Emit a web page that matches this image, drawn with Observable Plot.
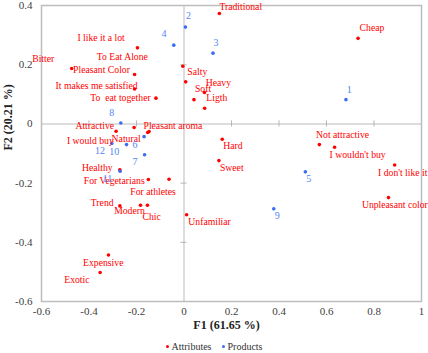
<!DOCTYPE html>
<html><head><meta charset="utf-8">
<script src="https://cdn.jsdelivr.net/npm/d3@7"></script>
<script src="https://cdn.jsdelivr.net/npm/@observablehq/plot@0.6"></script>
<style>
body{margin:0;background:#fff;}
#chart svg text{white-space:pre;}
.legend{display:flex;justify-content:center;align-items:center;width:428px;height:13px;font:10px "Liberation Serif","Times New Roman",serif;color:#333;}
.legend .dot{display:inline-block;width:3px;height:3px;border-radius:50%;margin-right:3px;}
.legend .item{display:flex;align-items:center;margin:0 5px;}
</style></head><body>
<div id="chart"></div>
<script>
// ---- data ----
const attrNames = ["Traditional","Cheap","I like it a lot","Bitter","Pleasant Color","It makes me satisfied","To  eat together","To Eat Alone","Salty","Heavy","Soft","Ligth","Attractive","I would buy","Natural","Pleasant aroma","Healthy","For Vegetarians","For athletes","Trend","Modern","Chic","Unfamiliar","Hard","Sweet","Not attractive","I wouldn't buy","I don't like it","Unpleasant color","Expensive","Exotic"];
const attrF1 = [0.149,0.733,-0.196,-0.473,-0.208,-0.208,-0.118,-0.005,0.007,0.086,0.042,0.087,-0.210,-0.286,-0.153,-0.147,-0.270,-0.150,-0.063,-0.270,-0.183,-0.154,0.011,0.161,0.147,0.570,0.634,0.887,0.861,-0.318,-0.353];
const attrF2 = [0.373,0.289,0.257,0.187,0.167,0.118,0.087,0.195,0.142,0.106,0.082,0.053,-0.012,-0.025,-0.029,-0.026,-0.155,-0.188,-0.187,-0.277,-0.275,-0.275,-0.307,-0.052,-0.124,-0.070,-0.079,-0.139,-0.249,-0.443,-0.502];
const prodNames = ["1","2","3","4","5","6","7","8","9","10","11","12"];
const prodF1 = [0.682,0.006,0.122,-0.043,0.511,-0.168,-0.166,-0.266,0.378,-0.242,-0.269,-0.304];
const prodF2 = [0.082,0.327,0.239,0.266,-0.162,-0.043,-0.104,0.003,-0.287,-0.070,-0.160,-0.066];
const xTicks = [-0.6,-0.4,-0.2,0,0.2,0.4,0.6,0.8,1];
const yTicks = [-0.6,-0.4,-0.2,0,0.2,0.4];
const xTitle = "F1 (61.65 %)";
const yTitle = "F2 (20.21 %)";
const legendNames = ["Attributes","Products"];

// ---- label layout (anchor, dx, dy in px) ----
const attrLabelPos = [["start",0,-6.5],["start",1.5,-10.5],["end",-12.7,-10.3],["end",-17.4,-9.7],["end",-4.7,-4.7],["end",3,-3.3],["end",-5.3,0],["end",-35,-9.7],["start",1.7,-9.6],["start",1.3,-10],["start",1,-10.7],["start",1.7,-10.7],["end",-20,-1.7],["end",-2.3,9.3],["end",-7,6],["start",-5.6,-5.7],["end",-7.3,-2.3],["end",-3.7,1.7],["end",6.7,12.3],["end",-6.3,-2.6],["end",4.3,5.3],["start",-5,12],["start",1.7,7],["start",1,7],["start",1,7],["start",-3.3,-9.7],["start",-5,8],["start",-16.6,7.7],["start",-26.6,7.3],["middle",-5.2,7.7],["end",-10.6,7.3]];
const prodLabelPos = [[3.3,-10.3],[3,-11],[3,-10.4],[-9.7,-11],[3.3,7],[-9,7.7],[-9.7,6.7],[-9,-10.3],[3.4,6.7],[-12.4,7.3],[-12.6,7.3],[-11.7,7.3]];

const attrs = attrNames.map((n,i)=>({name:n,x:attrF1[i],y:attrF2[i],a:attrLabelPos[i][0],dx:attrLabelPos[i][1],dy:attrLabelPos[i][2]}));
const prods = prodNames.map((n,i)=>({name:n,x:prodF1[i],y:prodF2[i],dx:prodLabelPos[i][0],dy:prodLabelPos[i][1]}));

const RED = "#ff0000", BLUE = "#3a6cf4", BLUE_T = "#5585f2";
const serif = "'Liberation Serif', 'Times New Roman', serif";
const inner = xTicks.filter(v=>v!==0 && v!==xTicks[0] && v!==xTicks[xTicks.length-1]);
const innerY = yTicks.filter(v=>v!==0 && v!==yTicks[0] && v!==yTicks[yTicks.length-1]);

const plot = Plot.plot({
  width: 428, height: 340,
  marginLeft: 41, marginRight: 7, marginTop: 5, marginBottom: 39,
  style: {fontFamily: serif, fontSize: "11px", color: "#404040", background: "#fff", overflow: "visible"},
  x: {domain: [-0.6, 1], ticks: xTicks, tickFormat: d => String(d), tickSize: 0, tickPadding: 6, label: null},
  y: {domain: [-0.6, 0.4], ticks: yTicks, tickFormat: d => String(d), tickSize: 0, tickPadding: 9, label: null},
  marks: [
    Plot.ruleX([0], {stroke: "#d2d2d2", strokeWidth: 1.5}),
    Plot.ruleY([0], {stroke: "#d2d2d2", strokeWidth: 1.5}),
    Plot.ruleX(inner, {x: d => d, y1: 0, y2: 0, insetTop: -3, insetBottom: -3, stroke: "#b5b5b5"}),
    Plot.ruleY(innerY, {y: d => d, x1: 0, x2: 0, insetLeft: -3, insetRight: -3, stroke: "#b5b5b5"}),
    Plot.frame({stroke: "#bdbdbd", strokeWidth: 1.5}),
    Plot.dot(attrs, {x: "x", y: "y", r: 1.8, fill: RED}),
    Plot.dot(prods, {x: "x", y: "y", r: 1.8, fill: BLUE}),
    ...attrs.map(d => Plot.text([d], {x: "x", y: "y", text: "name", fill: RED, fontSize: 9.7, textAnchor: d.a, dx: d.dx, dy: d.dy})),
    ...prods.map(d => Plot.text([d], {x: "x", y: "y", text: "name", fill: BLUE_T, fontSize: 10, dx: d.dx, dy: d.dy})),
    Plot.text([xTitle], {frameAnchor: "bottom", text: d => d, dy: 27, dx: -5, fontWeight: "bold", fontSize: 12, fill: "#222"}),
    Plot.text([yTitle], {frameAnchor: "left", text: d => d, dx: -33, dy: -3, rotate: -90, fontWeight: "bold", fontSize: 12, fill: "#222"})
  ]
});
document.getElementById("chart").appendChild(plot);

const leg = document.createElement("div");
leg.className = "legend";
const legColors = [RED, BLUE];
legendNames.forEach((n,i)=>{
  const it = document.createElement("span"); it.className = "item";
  const dot = document.createElement("span"); dot.className = "dot"; dot.style.background = legColors[i];
  it.appendChild(dot); it.appendChild(document.createTextNode(n));
  leg.appendChild(it);
});
document.getElementById("chart").appendChild(leg);
</script></body></html>
